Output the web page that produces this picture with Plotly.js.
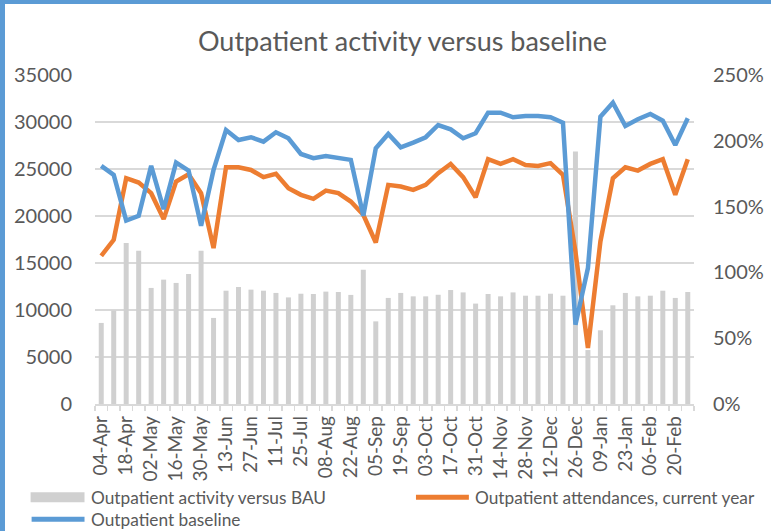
<!DOCTYPE html>
<html>
<head>
<meta charset="utf-8">
<script src="https://cdn.plot.ly/plotly-3.0.1.min.js"></script>
<style>
  html, body { margin: 0; padding: 0; background: #ffffff; }
  #wrap { position: relative; width: 771px; height: 531px; overflow: hidden; }
  #chart { position: absolute; left: 0; top: 0; width: 771px; height: 531px; }
  .edgeL { position: absolute; left: 0; top: 0; width: 5px; height: 531px; background: #5b9bd5; z-index: 5; }
  .edgeT { position: absolute; left: 0; top: 0; width: 771px; height: 4px; background: #5b9bd5; z-index: 5; }
</style>
</head>
<body>
<div id="wrap">
  <div id="chart"></div>
  <div class="edgeL"></div>
  <div class="edgeT"></div>
</div>
<script>
// Week-commencing labels
const weeks = ["04-Apr","11-Apr","18-Apr","25-Apr","02-May","09-May","16-May","23-May","30-May","06-Jun",
  "13-Jun","20-Jun","27-Jun","04-Jul","11-Jul","18-Jul","25-Jul","01-Aug","08-Aug","15-Aug",
  "22-Aug","29-Aug","05-Sep","12-Sep","19-Sep","26-Sep","03-Oct","10-Oct","17-Oct","24-Oct",
  "31-Oct","07-Nov","14-Nov","21-Nov","28-Nov","05-Dec","12-Dec","19-Dec","26-Dec","02-Jan",
  "09-Jan","16-Jan","23-Jan","30-Jan","06-Feb","13-Feb","20-Feb","27-Feb"];

// Outpatient activity versus BAU (%), right axis
const activityVsBAU = [61.6,71,122.3,116.5,88.2,94.5,92,98.8,116.5,65.4,
  86.1,88.9,86.9,86.1,84.4,81,83.8,83.6,85.4,85.1,
  82.9,102,62.8,80.6,84.4,81.8,81.8,83,86.6,84.8,
  76.3,83.6,81.8,84.8,82.3,82.3,83.8,82.3,191.8,41,
  56,75,84.4,81.8,82.3,86.1,80.6,85.1];

// Outpatient attendances, current year (left axis)
const currentYear = [15770,17470,24020,23560,22430,19670,23660,24440,22430,16590,
  25190,25190,24900,24130,24480,22960,22250,21820,22700,22430,
  21540,20130,17180,23310,23130,22780,23310,24550,25540,24130,
  22000,26040,25540,26040,25430,25330,25620,24370,16200,5970,
  17290,24020,25190,24830,25540,26040,22250,26040];

// Outpatient baseline (left axis)
const baseline = [25330,24370,19520,20020,25330,20730,25680,24830,18960,24900,
  29150,28090,28380,27910,28910,28270,26600,26150,26390,26210,
  25970,20020,27210,28730,27310,27800,28380,29680,29220,28270,
  28800,30990,30990,30500,30640,30640,30500,29930,8440,14460,
  30570,32050,29580,30290,30850,30140,27560,30390];

// Series names (legend)
const seriesNames = ["Outpatient activity versus BAU",
  "Outpatient attendances, current year",
  "Outpatient baseline"];
const seriesColors = ["#d0d0d0", "#ed7d31", "#5b9bd5"];

// Tick labels: every second week shown
const tickText = weeks.map((w, i) => (i % 2 === 0 ? w : ""));

const FONT = "Lato, 'Open Sans', sans-serif";
const GREY_TXT = "#595959";

const traces = [
  {
    type: "bar",
    name: seriesNames[0],
    x: weeks,
    y: activityVsBAU.map(v => v / 100),
    yaxis: "y",
    marker: { color: seriesColors[0] },
    showlegend: false
  },
  {
    type: "scatter",
    mode: "lines",
    name: seriesNames[1],
    x: weeks,
    y: currentYear,
    yaxis: "y2",
    line: { color: seriesColors[1], width: 4.5 },
    showlegend: false
  },
  {
    type: "scatter",
    mode: "lines",
    name: seriesNames[2],
    x: weeks,
    y: baseline,
    yaxis: "y2",
    line: { color: seriesColors[2], width: 4.5 },
    showlegend: false
  }
];

// Legend drawn as shapes + text in paper coordinates (plot area: 600 x 329.5 px)
const px2x = p => (p - 94.5) / 600;
const px2y = p => (404.5 - p) / 329.5;
const legendShapes = [
  { type: "rect", xref: "paper", yref: "paper",
    x0: px2x(30), x1: px2x(84), y0: px2y(493), y1: px2y(503),
    fillcolor: seriesColors[0], line: { width: 0 } },
  { type: "line", xref: "paper", yref: "paper",
    x0: px2x(416), x1: px2x(469), y0: px2y(498), y1: px2y(498),
    line: { color: seriesColors[1], width: 5 } },
  { type: "line", xref: "paper", yref: "paper",
    x0: px2x(31), x1: px2x(84), y0: px2y(520), y1: px2y(520),
    line: { color: seriesColors[2], width: 5 } }
];
const legendText = [
  { px: 88, py: 498, t: seriesNames[0] },
  { px: 473, py: 498, t: seriesNames[1] },
  { px: 88, py: 520, t: seriesNames[2] }
].map(o => ({
  xref: "paper", yref: "paper", x: px2x(o.px), y: px2y(o.py),
  xanchor: "left", yanchor: "middle", showarrow: false, text: o.t,
  font: { family: FONT, size: 17.3, color: GREY_TXT }
}));

const layout = {
  width: 771,
  height: 531,
  margin: { l: 94.5, r: 76.5, t: 75, b: 126.5, pad: 0 },
  paper_bgcolor: "#ffffff",
  plot_bgcolor: "#ffffff",
  font: { family: FONT, color: GREY_TXT, size: 17 },
  title: {
    text: "Outpatient activity versus baseline",
    font: { family: FONT, size: 27, color: GREY_TXT },
    x: 0.522, xanchor: "center",
    y: 0.922, yanchor: "middle"
  },
  bargap: 0.6,
  showlegend: false,
  shapes: legendShapes,
  annotations: legendText,
  xaxis: {
    type: "category",
    tickmode: "array",
    tickvals: weeks,
    ticktext: tickText,
    tickangle: -90,
    tickson: "boundaries",
    ticks: "outside",
    ticklen: 5,
    tickcolor: "#d9d9d9",
    tickwidth: 1.5,
    showline: true,
    linecolor: "#d9d9d9",
    linewidth: 1.5,
    showgrid: false,
    zeroline: false,
    automargin: false,
    ticklabelstandoff: 3,
    tickfont: { family: FONT, size: 19, color: GREY_TXT },
    range: [-0.5, weeks.length - 0.5],
    fixedrange: true
  },
  yaxis: {
    side: "right",
    range: [0, 2.5],
    tickmode: "linear",
    tick0: 0,
    dtick: 0.5,
    tickformat: ".0%",
    showgrid: false,
    zeroline: false,
    showline: false,
    ticks: "",
    automargin: false,
    ticklabelstandoff: 18,
    tickfont: { family: FONT, size: 20, color: GREY_TXT },
    fixedrange: true
  },
  yaxis2: {
    overlaying: "y",
    side: "left",
    range: [0, 35000],
    tickmode: "linear",
    tick0: 0,
    dtick: 5000,
    tickformat: "d",
    showgrid: true,
    gridcolor: "#d9d9d9",
    gridwidth: 1.5,
    zeroline: false,
    showline: false,
    ticks: "",
    automargin: false,
    ticklabelstandoff: 22,
    tickfont: { family: FONT, size: 20, color: GREY_TXT },
    fixedrange: true
  }
};

Plotly.newPlot("chart", traces, layout, { displayModeBar: false, staticPlot: true });
</script>
</body>
</html>
